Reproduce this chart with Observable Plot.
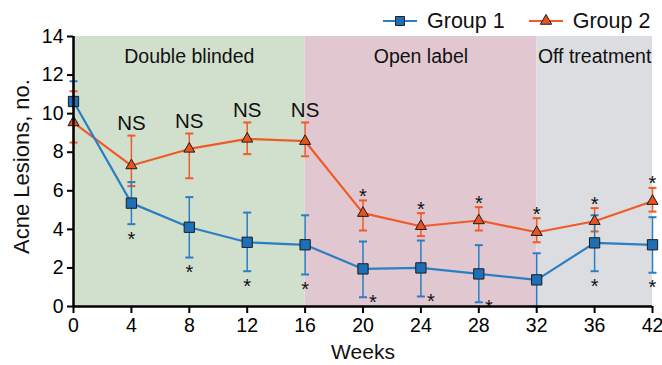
<!DOCTYPE html>
<html><head><meta charset="utf-8">
<script src="https://cdn.jsdelivr.net/npm/d3@7"></script>
<script src="https://cdn.jsdelivr.net/npm/@observablehq/plot@0.6"></script>
<style>
body{margin:0;background:#fff;font-family:"Liberation Sans",Arial,sans-serif;}
#wrap{position:relative;width:662px;height:365px;}
#legend{position:absolute;top:8px;left:383px;display:flex;align-items:center;font-size:21.5px;color:#111;line-height:26px;}
#legend .item{display:flex;align-items:center;}
#legend svg{margin-right:10px;}
</style></head><body><div id="wrap"><div id="legend"></div></div>
<script>
const weeks = [0, 4, 8, 12, 16, 20, 24, 28, 32, 36, 42];
const g1Mean = [10.63, 5.36, 4.11, 3.33, 3.20, 1.95, 2.00, 1.69, 1.38, 3.30, 3.20];
const g1Lo   = [9.55, 4.27, 2.54, 1.83, 1.66, 0.48, 0.52, 0.22, 0.00, 1.83, 1.75];
const g1Hi   = [11.68, 6.45, 5.67, 4.87, 4.73, 3.37, 3.42, 3.18, 2.76, 4.73, 4.63];
const g2Mean = [9.54, 7.31, 8.17, 8.69, 8.57, 4.84, 4.16, 4.46, 3.85, 4.42, 5.46];
const g2Lo   = [8.50, 6.24, 6.65, 7.90, 7.79, 3.94, 3.65, 3.94, 3.33, 3.89, 4.92];
const g2Hi   = [11.16, 8.86, 8.97, 9.54, 9.54, 5.50, 4.84, 5.15, 4.58, 5.10, 6.15];
const g2Marks = ["", "NS", "NS", "NS", "NS", "*", "*", "*", "*", "*", "*"];
const g1Marks = ["", "*", "*", "*", "*", "*", "*", "*", "", "*", "*"];
const g1MarkSide = ["", "below", "below", "below", "below", "right", "right", "right", "", "below", "below"];
const phaseNames = ["Double blinded", "Open label", "Off treatment"];
const phaseStart = [0, 16, 32];
const phaseEnd = [16, 32, 42];
const phaseColors = ["#d0e0cc", "#e1c7d0", "#dcdde0"];
const yTicks = [0, 2, 4, 6, 8, 10, 12, 14];
const groupNames = ["Group 1", "Group 2"];

const blue = "#2a7ec3", blueFill = "#1f6fb8";
const orange = "#f05a28", orangeFill = "#e8531e";
const markerStroke = "#1c1c1c";

const rows = weeks.map((w, i) => ({
  i, w,
  g1: g1Mean[i], g1lo: g1Lo[i], g1hi: g1Hi[i],
  g2: g2Mean[i], g2lo: g2Lo[i], g2hi: g2Hi[i],
  m1: g1Marks[i], m1side: g1MarkSide[i], m2: g2Marks[i]
}));
const phases = phaseNames.map((name, k) => ({
  name,
  a: weeks.indexOf(phaseStart[k]),
  b: weeks.indexOf(phaseEnd[k]),
  fill: phaseColors[k]
}));

const capSymbol = {draw(ctx, size) { const w = 4; ctx.moveTo(-w, 0); ctx.lineTo(w, 0); }};

function errorBars(lo, hi, color) {
  return [
    Plot.ruleX(rows, {x: "i", y1: lo, y2: hi, stroke: color, strokeWidth: 1.5}),
    Plot.dot(rows, {x: "i", y: lo, symbol: capSymbol, r: 4, stroke: color, strokeWidth: 2, fill: "none"}),
    Plot.dot(rows, {x: "i", y: hi, symbol: capSymbol, r: 4, stroke: color, strokeWidth: 2, fill: "none"})
  ];
}

const chart = Plot.plot({
  width: 662, height: 365,
  marginLeft: 73, marginRight: 10, marginTop: 36, marginBottom: 59,
  style: {fontFamily: "'Liberation Sans', Arial, sans-serif", color: "#000", background: "transparent"},
  x: {type: "linear", domain: [0, weeks.length - 1]},
  y: {domain: [0, 14]},
  marks: [
    Plot.rect(phases, {x1: "a", x2: "b", fill: "fill"}),
    Plot.text(phases, {x: d => (d.a + d.b) / 2, frameAnchor: "top", lineAnchor: "middle", dy: 20, text: "name", fontSize: 19.5, fill: "#111"}),
    ...errorBars("g2lo", "g2hi", orange),
    Plot.line(rows, {x: "i", y: "g2", stroke: orange, strokeWidth: 2.2}),
    ...errorBars("g1lo", "g1hi", blue),
    Plot.line(rows, {x: "i", y: "g1", stroke: blue, strokeWidth: 2.2}),
    Plot.dot(rows, {x: "i", y: "g2", symbol: "triangle", r: 4.1, fill: orangeFill, stroke: markerStroke, strokeWidth: 1}),
    Plot.dot(rows, {x: "i", y: "g1", symbol: "square", r: 5.8, fill: blueFill, stroke: markerStroke, strokeWidth: 1}),
    Plot.text(rows.filter(d => d.m2 === "NS"), {x: "i", y: "g2hi", text: "m2", dy: -12, fontSize: 20.5, fill: "#111"}),
    Plot.text(rows.filter(d => d.m2 === "*"), {x: "i", y: "g2hi", text: "m2", dy: -4, fontSize: 20, fill: "#111"}),
    Plot.text(rows.filter(d => d.m1 && d.m1side === "below"), {x: "i", y: "g1lo", text: "m1", dy: 15, fontSize: 20, fill: "#111"}),
    Plot.text(rows.filter(d => d.m1 && d.m1side === "right"), {x: "i", y: "g1lo", text: "m1", dx: 10, dy: 5, fontSize: 20, fill: "#111"}),
    Plot.axisY({ticks: yTicks, tickSize: 6, tickPadding: 4, fontSize: 19.5, label: null, strokeWidth: 2}),
    Plot.axisX({ticks: weeks.map((w, i) => i), tickFormat: i => weeks[i], tickSize: 7, tickPadding: 5, fontSize: 19.5, label: null, strokeWidth: 2}),
    Plot.ruleX([0], {stroke: "#000", strokeWidth: 2.5}),
    Plot.ruleY([0], {stroke: "#000", strokeWidth: 2.5}),
    Plot.text(["Acne Lesions, no."], {frameAnchor: "left", textAnchor: "middle", lineAnchor: "middle", rotate: -90, dx: -52, dy: -5, fontSize: 22, fill: "#111"}),
    Plot.text(["Weeks"], {frameAnchor: "bottom", lineAnchor: "middle", dy: 46, fontSize: 21, fill: "#111"})
  ]
});
document.getElementById("wrap").appendChild(chart);

// legend
const legend = d3.select("#legend");
const legendSpec = [
  {name: groupNames[0], line: blue, fill: blueFill, sym: d3.symbolSquare, size: 80},
  {name: groupNames[1], line: orange, fill: orangeFill, sym: d3.symbolTriangle, size: 55}
];
legendSpec.forEach((s, k) => {
  const item = legend.append("div").attr("class", "item").style("margin-left", k ? "24px" : "0px");
  const svg = item.append("svg").attr("width", 34).attr("height", 16);
  svg.append("line").attr("x1", 0).attr("x2", 34).attr("y1", 8).attr("y2", 8).attr("stroke", s.line).attr("stroke-width", 2);
  svg.append("path").attr("d", d3.symbol(s.sym, s.size)()).attr("transform", "translate(17,8)")
    .attr("fill", s.fill).attr("stroke", markerStroke).attr("stroke-width", 1);
  item.append("span").text(s.name);
});
</script>
</body></html>
